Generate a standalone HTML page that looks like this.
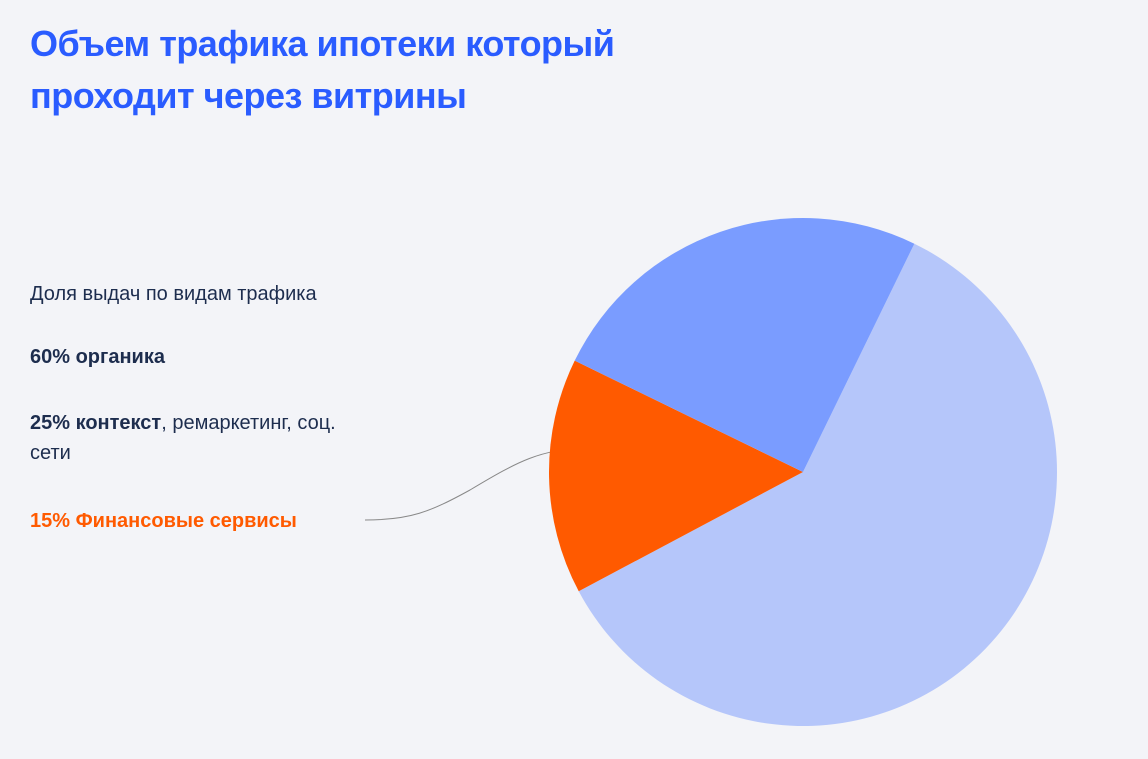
<!DOCTYPE html>
<html><head><meta charset="utf-8"><style>
body{margin:0;width:1148px;height:759px;background:#f3f4f8;overflow:hidden;font-family:"Liberation Sans","DejaVu Sans",sans-serif;position:relative}
h1{position:absolute;left:30px;top:18px;margin:0;font-size:36px;line-height:52px;color:#2a5cff;font-weight:bold;letter-spacing:-0.5px}
.t{position:absolute;left:30px;font-size:20px;color:#1d2d4e;line-height:30px}
b{font-weight:bold}
svg{position:absolute;left:0;top:0}
</style></head><body>
<h1>Объем трафика ипотеки который<br>проходит через витрины</h1>
<div class="t" style="top:279px">Доля выдач по видам трафика</div>
<div class="t" style="top:342px"><b>60% органика</b></div>
<div class="t" style="top:408px;width:400px"><b>25% контекст</b>, ремаркетинг, соц.<br>сети</div>
<div class="t" style="top:506px;color:#ff5a00"><b>15% Финансовые сервисы</b></div>
<svg width="1148" height="759">
<path d="M365,520 C410,520 430,512 470,490 C520,460 540,450 585,448" fill="none" stroke="#888" stroke-width="1"/>
<g id="pie"></g>
</svg>
<script>
const categories=["органика","финансовые сервисы","контекст"];
const values=[60,15,25];
const colors=["#b5c6fa","#ff5a00","#7a9cff"];
const cx=803,cy=472,r=254,startDeg=26;
const g=document.getElementById('pie');
const total=values.reduce((a,b)=>a+b,0);
let a=startDeg;
function pt(d){const t=d*Math.PI/180;return [cx+r*Math.sin(t),cy-r*Math.cos(t)];}
values.forEach((v,i)=>{
  const span=v/total*360;const p1=pt(a),p2=pt(a+span);
  const p=document.createElementNS('http://www.w3.org/2000/svg','path');
  p.setAttribute('d',`M${cx},${cy} L${p1[0]},${p1[1]} A${r},${r} 0 ${span>180?1:0} 1 ${p2[0]},${p2[1]} Z`);
  p.setAttribute('fill',colors[i]);
  
  
  g.appendChild(p);a+=span;
});
</script>
</body></html>
